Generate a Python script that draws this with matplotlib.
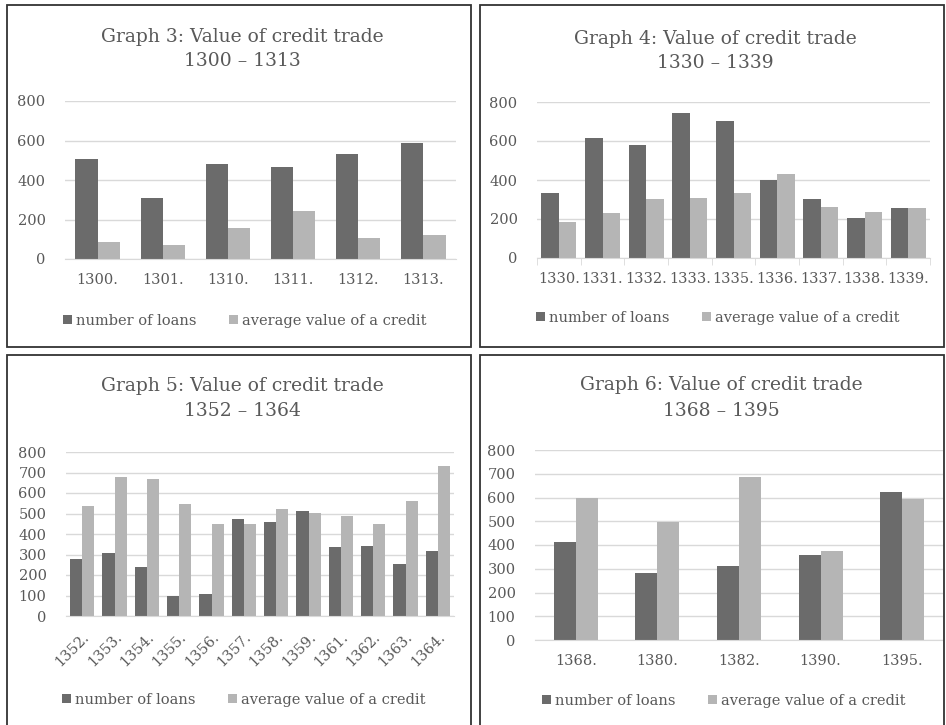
import matplotlib
matplotlib.use("Agg")
import numpy as np
import matplotlib.pyplot as plt
from matplotlib.patches import Rectangle

# data
years_3 = ["1300.", "1301.", "1310.", "1311.", "1312.", "1313."]
loans_3 = [504, 307, 481, 467, 533, 588]
avg_3 = [84, 69, 155, 245, 108, 124]

years_4 = ["1330.", "1331.", "1332.", "1333.", "1335.", "1336.", "1337.", "1338.", "1339."]
loans_4 = [333, 614, 582, 742, 703, 401, 302, 206, 256]
avg_4 = [183, 229, 300, 307, 333, 430, 261, 235, 258]

years_5 = ["1352.", "1353.", "1354.", "1355.", "1356.", "1357.", "1358.", "1359.",
           "1361.", "1362.", "1363.", "1364."]
loans_5 = [278, 309, 241, 98, 106, 473, 457, 512, 338, 343, 255, 319]
avg_5 = [538, 676, 668, 546, 449, 449, 522, 502, 489, 449, 561, 732]

years_6 = ["1368.", "1380.", "1382.", "1390.", "1395."]
loans_6 = [414, 281, 312, 359, 623]
avg_6 = [598, 497, 686, 373, 594]

titles = ["Graph 3: Value of credit trade\n1300 \u2013 1313",
          "Graph 4: Value of credit trade\n1330 \u2013 1339",
          "Graph 5: Value of credit trade\n1352 \u2013 1364",
          "Graph 6: Value of credit trade\n1368 \u2013 1395"]

W, H = 946, 725
DARK = "#6b6b6b"
LIGHT = "#b5b5b5"
TXT = "#595959"
GRID = "#d9d9d9"

plt.rcParams["font.family"] = "DejaVu Serif"

fig = plt.figure(figsize=(W / 100, H / 100), dpi=100)


def px_rect(x0, y0, x1, y1):
    # pixel box -> figure fraction rect
    return [x0 / W, 1 - y1 / H, (x1 - x0) / W, (y1 - y0) / H]


# panel borders
for (x0, y0, x1, y1) in [(7, 5, 471, 347), (480, 5, 944, 347),
                         (7, 355, 471, 740), (480, 355, 944, 740)]:
    fig.patches.append(Rectangle((x0 / W, 1 - y1 / H), (x1 - x0) / W, (y1 - y0) / H,
                                 transform=fig.transFigure, fill=False,
                                 edgecolor="#333333", linewidth=1.3))

panels = [
    dict(names=years_3, a=loans_3, b=avg_3, box=(65, 101, 456, 259), step=200,
         bw=0.34, title_xy=(242, 49), leg_xy=(245, 321), rot=0, ticks=False),
    dict(names=years_4, a=loans_4, b=avg_4, box=(537, 102, 930, 258), step=200,
         bw=0.40, title_xy=(715, 51), leg_xy=(718, 318), rot=0, ticks=True),
    dict(names=years_5, a=loans_5, b=avg_5, box=(66, 452, 454, 616), step=100,
         bw=0.38, title_xy=(242, 399), leg_xy=(244, 700), rot=45, ticks=False),
    dict(names=years_6, a=loans_6, b=avg_6, box=(535, 450, 943, 640), step=100,
         bw=0.27, title_xy=(721, 398), leg_xy=(724, 701), rot=0, ticks=False),
]

for p, title in zip(panels, titles):
    ax = fig.add_axes(px_rect(*p["box"]))
    x = np.arange(len(p["names"]))
    bw = p["bw"]
    ax.bar(x - bw / 2, p["a"], bw, color=DARK, label="number of loans", zorder=3)
    ax.bar(x + bw / 2, p["b"], bw, color=LIGHT, label="average value of a credit", zorder=3)

    ax.set_xlim(-0.5, len(x) - 0.5)
    ax.set_ylim(0, 800)
    ax.set_yticks(np.arange(0, 801, p["step"]))
    ax.grid(axis="y", color=GRID, linewidth=1, zorder=0)
    for s in ["top", "right", "left"]:
        ax.spines[s].set_visible(False)
    ax.spines["bottom"].set_color(GRID)
    ax.spines["bottom"].set_zorder(4)

    ax.set_xticks(x)
    if p["rot"]:
        ax.set_xticklabels(p["names"], rotation=45, ha="right", rotation_mode="anchor")
    else:
        ax.set_xticklabels(p["names"])
    ax.tick_params(axis="x", length=0, pad=10, labelsize=10.5, labelcolor=TXT)
    ax.tick_params(axis="y", length=0, pad=14, labelsize=10.5, labelcolor=TXT)
    if p["ticks"]:
        ax.set_xticks(np.arange(-0.5, len(x), 1.0), minor=True)
        ax.tick_params(axis="x", which="minor", length=5, color=GRID)

    fig.text(p["title_xy"][0] / W, 1 - p["title_xy"][1] / H, title, ha="center",
             va="center", fontsize=13.5, color=TXT, linespacing=1.5)

    ax.legend(loc="center", bbox_to_anchor=(p["leg_xy"][0] / W, 1 - p["leg_xy"][1] / H),
              bbox_transform=fig.transFigure, ncol=2, frameon=False,
              handlelength=0.6, handleheight=0.6, handletextpad=0.3,
              columnspacing=2.2, fontsize=10.5, labelcolor=TXT)

fig.savefig("out.png", dpi=100)
